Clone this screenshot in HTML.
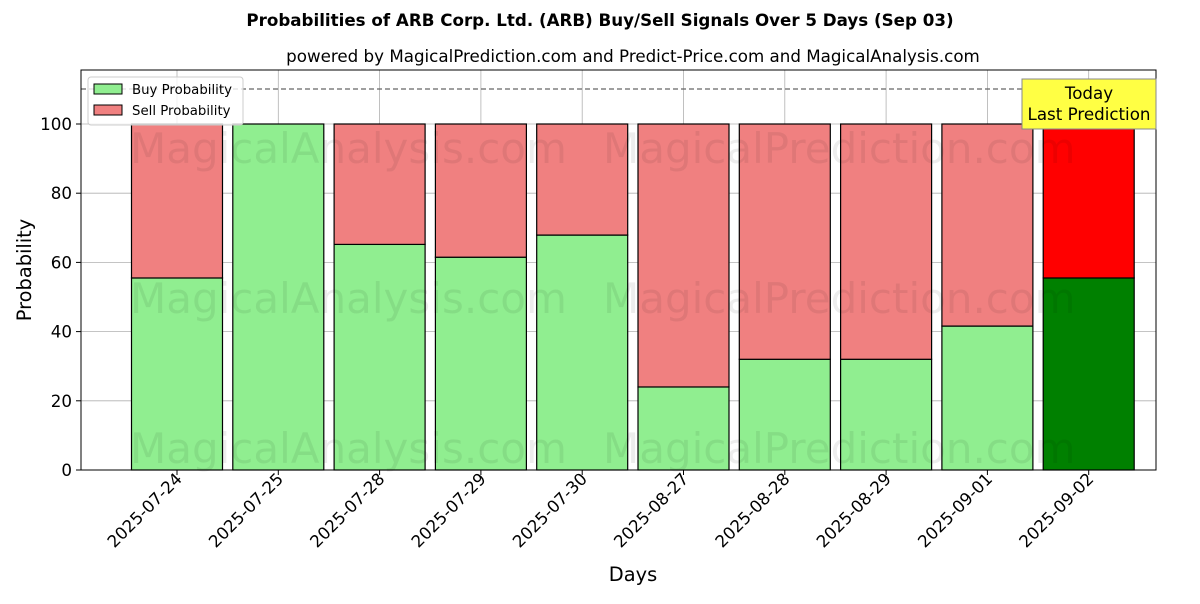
<!DOCTYPE html>
<html><head><meta charset="utf-8"><style>
body{margin:0;background:#fff;font-family:"DejaVu Sans","Liberation Sans",sans-serif}
svg text{font-family:"DejaVu Sans","Liberation Sans",sans-serif}
</style></head><body>
<svg id="chart" width="1200" height="600" xmlns="http://www.w3.org/2000/svg">
<rect width="1200" height="600" fill="#fff"/>
<text x="600" y="26" text-anchor="middle" font-size="16.7" font-weight="bold">Probabilities of ARB Corp. Ltd. (ARB) Buy/Sell Signals Over 5 Days (Sep 03)</text>
<text x="633" y="62" text-anchor="middle" font-size="16.7">powered by MagicalPrediction.com and Predict-Price.com and MagicalAnalysis.com</text>
<g id="grid"></g>
<g id="bars"></g>
<g id="wm" fill="#000" fill-opacity="0.07" font-size="42">
<text x="130" y="163">MagicalAnalysis.com</text>
<text x="603" y="163">MagicalPrediction.com</text>
<text x="130" y="313">MagicalAnalysis.com</text>
<text x="603" y="313">MagicalPrediction.com</text>
<text x="130" y="463">MagicalAnalysis.com</text>
<text x="603" y="463">MagicalPrediction.com</text>
</g>
<line x1="81" x2="1156" y1="89" y2="89" stroke="#666" stroke-dasharray="5,3" stroke-width="1.2"/>
<rect x="81" y="70" width="1075" height="400" fill="none" stroke="#000" stroke-width="1"/>
<g id="axes"></g>
<text x="31" y="270" transform="rotate(-90 31 270)" text-anchor="middle" font-size="19.4">Probability</text>
<text x="633" y="581" text-anchor="middle" font-size="19.4">Days</text>
<g>
<rect x="88" y="77" width="155" height="48" fill="#fff" fill-opacity="0.8" stroke="#ccc" rx="3"/>
<rect x="94" y="84" width="28" height="10" fill="#90ee90" stroke="#000"/>
<text x="132" y="94" font-size="13.3">Buy Probability</text>
<rect x="94" y="105" width="28" height="10" fill="#f08080" stroke="#000"/>
<text x="132" y="115" font-size="13.3">Sell Probability</text>
</g>
<g>
<rect x="1022" y="79" width="134" height="50" fill="#ffff44" stroke="#888"/>
<text x="1089" y="99" text-anchor="middle" font-size="16.7">Today</text>
<text x="1089" y="120" text-anchor="middle" font-size="16.7">Last Prediction</text>
</g>
</svg>
<script>
const categories=["2025-07-24","2025-07-25","2025-07-28","2025-07-29","2025-07-30","2025-08-27","2025-08-28","2025-08-29","2025-09-01","2025-09-02"];
const buyValues=[55.5,100,65.2,61.5,67.9,24,32,32,41.6,55.5];
const sellValues=[44.5,0,34.8,38.5,32.1,76,68,68,58.4,44.5];
const yTicks=[0,20,40,60,80,100];
const NS="http://www.w3.org/2000/svg";
const y=v=>470-v*3.46;
const x=i=>177+i*101.3;
const bw=91;
function mk(tag,attrs,parent){const e=document.createElementNS(NS,tag);for(const k in attrs)e.setAttribute(k,attrs[k]);parent.appendChild(e);return e;}
const grid=document.getElementById('grid'),bars=document.getElementById('bars'),axes=document.getElementById('axes');
yTicks.forEach(t=>{
 const g=mk('line',{x1:81,x2:1156,y1:y(t),y2:y(t),stroke:'#b0b0b0','stroke-width':0.8},grid);
 
 
 const tk=mk('line',{x1:76,x2:81,y1:y(t),y2:y(t),stroke:'#000'},axes);
 
 
 const tx=mk('text',{x:72,y:y(t)+6,'text-anchor':'end','font-size':16.7},axes);
 tx.textContent=t;
 
 
});
categories.forEach((c,i)=>{
 const gl=mk('line',{x1:x(i),x2:x(i),y1:70,y2:470,stroke:'#b0b0b0','stroke-width':0.8},grid);
 
 
 const last=i===categories.length-1;
 const b=mk('rect',{x:x(i)-bw/2,y:y(buyValues[i]),width:bw,height:buyValues[i]*3.46,fill:last?'#008000':'#90ee90',stroke:'#000','stroke-width':1.2},bars);
 
 
 const s=mk('rect',{x:x(i)-bw/2,y:y(buyValues[i]+sellValues[i]),width:bw,height:sellValues[i]*3.46,fill:last?'#ff0000':'#f08080',stroke:'#000','stroke-width':1.2},bars);
 
 
 const tk=mk('line',{x1:x(i),x2:x(i),y1:470,y2:475,stroke:'#000'},axes);
 
 
 const tx=mk('text',{x:x(i)+6,y:480,'text-anchor':'end','font-size':16.7,transform:`rotate(-45 ${x(i)+6} 480)`},axes);
 tx.textContent=c;
 
 
});
</script>
</body></html>
